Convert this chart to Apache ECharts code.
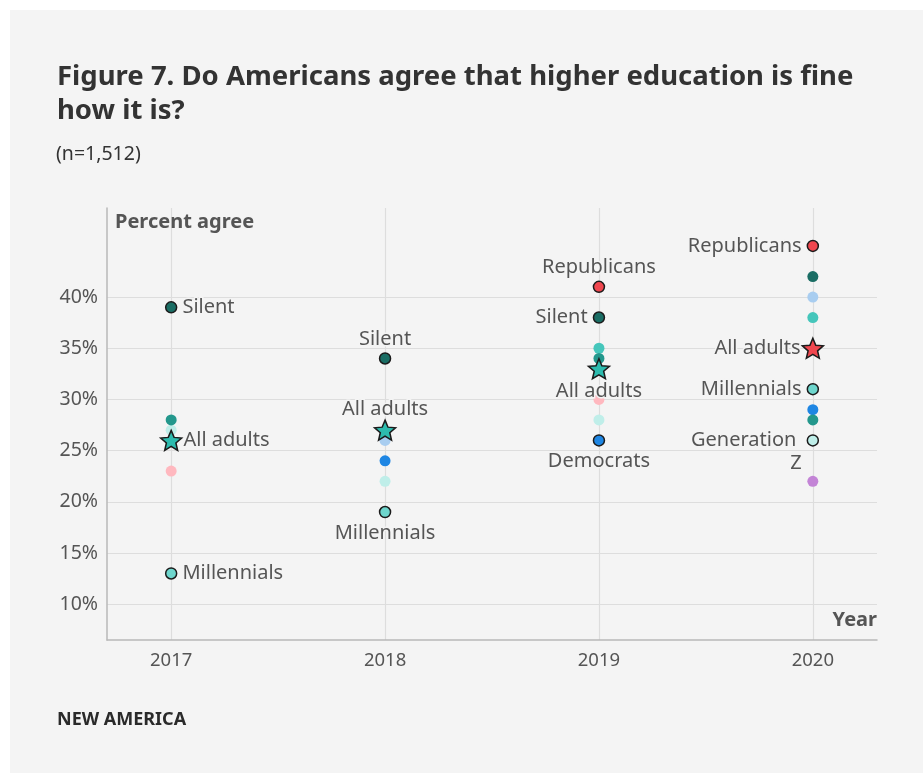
<!DOCTYPE html>
<html>
<head>
<meta charset="utf-8">
<script src="https://cdn.jsdelivr.net/npm/echarts@6/dist/echarts.min.js"></script>
<style>
  html, body { margin: 0; padding: 0; background: #ffffff; }
  #panel { position: absolute; left: 10px; top: 10px; width: 913px; height: 763px; background: #f4f4f4; }
  #chart { position: absolute; left: 0; top: 0; width: 923px; height: 773px; }
</style>
</head>
<body>
<div id="panel"></div>
<div id="chart"></div>
<script>
// Survey years and share of each group agreeing (percent)
const years = [2017, 2018, 2019, 2020];
const silent = [39, 34, 38, 42];
const boomers = [28, null, 34, 28];
const genX = [null, null, 35, 38];
const millennials = [13, 19, null, 31];
const genZ = [27, 22, 28, 26];
const republicans = [null, null, 41, 45];
const independents = [23, null, 30, null];
const democrats = [null, 24, 26, 29];
const leanDemocrat = [null, 26, null, 40];
const otherParty = [null, null, null, 22];
const allAdults = [26, 27, 33, 35];
const yTicks = [10, 15, 20, 25, 30, 35, 40];

const FONT = '"Noto Sans", sans-serif';
const TEXT = '#555555';
const BG = '#f4f4f4';
const STAR = 'path://M12,1.5 L14.9,8.4 L22.4,9 L16.7,13.9 L18.4,21.2 L12,17.3 L5.6,21.2 L7.3,13.9 L1.6,9 L9.1,8.4 Z';

// label placement per year (null = unlabelled)
const groups = [
  { name: 'Other', text: '', values: otherParty, color: '#c384d6', labels: [] },
  { name: 'Independents', text: '', values: independents, color: '#ffb8bf', labels: [] },
  { name: 'Lean Democrat', text: '', values: leanDemocrat, color: '#a8cdf0', labels: [] },
  { name: 'Democrats', text: 'Democrats', values: democrats, color: '#1e86e3', labels: [null, null, 'bottom', null] },
  { name: 'Generation Z', text: 'Generation \nZ', values: genZ, color: '#bfeee9', labels: [null, null, null, 'left'] },
  { name: 'Generation X', text: '', values: genX, color: '#45c6bb', labels: [] },
  { name: 'Boomers', text: '', values: boomers, color: '#23978c', labels: [] },
  { name: 'Millennials', text: 'Millennials', values: millennials, color: '#6ed6cd', labels: ['right', 'bottom', null, 'left'] },
  { name: 'Silent', text: 'Silent', values: silent, color: '#1a6d64', labels: ['right', 'top', 'left', null] },
  { name: 'Republicans', text: 'Republicans', values: republicans, color: '#f0474f', labels: [null, null, 'top', 'left'] }
];

const labelBase = {
  show: true,
  color: TEXT,
  fontFamily: FONT,
  fontSize: 20,
  lineHeight: 20,
  textBorderColor: BG,
  textBorderWidth: 3,
  distance: 5
};

function buildData(values, labels, text, colorFn) {
  const out = [];
  values.forEach((v, i) => {
    if (v === null) return;
    const pos = labels[i] || null;
    const item = { value: [years[i], v] };
    if (colorFn) item.itemStyle = { color: colorFn(i) };
    if (pos) {
      item.itemStyle = Object.assign({}, item.itemStyle, { borderColor: '#1b1b1b', borderWidth: 1.5 });
      const lab = Object.assign({}, labelBase, { position: pos, formatter: text });
      if (pos === 'top') lab.distance = 3;
      if (text.indexOf('\n') >= 0) { lab.align = 'right'; lab.lineHeight = 23; lab.offset = [0, 11.5]; }
      item.label = lab;
    }
    out.push(item);
  });
  return out;
}

const series = [];

// grid lines drawn from axis values, kept beneath the marks
series.push({
  type: 'scatter',
  data: [],
  silent: true,
  z: 0,
  markLine: {
    silent: true,
    z: 0,
    symbol: 'none',
    animation: false,
    label: { show: false },
    lineStyle: { color: '#dddddd', width: 1.2, type: 'solid' },
    data: yTicks.map(v => ({ yAxis: v })).concat(years.map(y => ({ xAxis: y })))
  }
});

groups.forEach(g => {
  series.push({
    name: g.name,
    type: 'scatter',
    symbolSize: 11,
    z: 3,
    itemStyle: { color: g.color, opacity: 1 },
    label: { show: false },
    data: buildData(g.values, g.labels, g.text)
  });
});

series.push({
  name: 'All adults',
  type: 'scatter',
  symbol: STAR,
  symbolSize: [21, 20],
  z: 5,
  itemStyle: { color: '#2dbbae', borderColor: '#1b1b1b', borderWidth: 1.5, opacity: 1 },
  data: buildData(allAdults, ['right', 'top', 'bottom', 'left'], 'All adults',
    i => (i === 3 ? '#f0474f' : '#2dbbae'))
});
// star labels sit a little closer to the mark
series[series.length - 1].data.forEach(d => { d.label.distance = 2; });
series[series.length - 1].data[0].label.distance = 1;
series[series.length - 1].data[1].label.distance = 0;
series[series.length - 1].data[3].label.distance = 1;

const chart = echarts.init(document.getElementById('chart'), null, { renderer: 'canvas' });
chart.setOption({
  backgroundColor: 'transparent',
  animation: false,
  title: [
    {
      text: 'Figure 7. Do Americans agree that higher education is fine\nhow it is?',
      left: 52, top: 55,
      textStyle: { fontFamily: FONT, fontWeight: 'bold', fontSize: 27.5, lineHeight: 34, color: '#333333' }
    },
    {
      text: '(n=1,512)',
      left: 51, top: 139,
      textStyle: { fontFamily: FONT, fontWeight: 'normal', fontSize: 19.5, color: '#333333' }
    },
    {
      text: 'NEW AMERICA',
      left: 52, top: 706,
      textStyle: { fontFamily: FONT, fontWeight: 'bold', fontSize: 18, color: '#2a2a2a' }
    }
  ],
  grid: { left: 107, right: 46, top: 208, bottom: 133, containLabel: false },
  xAxis: {
    type: 'value',
    min: 2016.7,
    max: 2020.3,
    name: 'Year',
    nameLocation: 'end',
    nameGap: 0,
    nameTextStyle: { fontFamily: FONT, fontWeight: 'bold', fontSize: 20, color: TEXT, align: 'right', verticalAlign: 'bottom', padding: [0, 0, 10, 0] },
    axisLine: { onZero: false, lineStyle: { color: '#b8b8b8', width: 1.5 } },
    axisTick: { show: false },
    splitLine: { show: false },
    axisLabel: { customValues: years, color: TEXT, fontFamily: FONT, fontSize: 18.5, margin: 11, formatter: v => String(v) }
  },
  yAxis: {
    type: 'value',
    min: 6.5,
    max: 48.7,
    name: 'Percent agree',
    nameLocation: 'end',
    nameGap: -24,
    nameTextStyle: { fontFamily: FONT, fontWeight: 'bold', fontSize: 20, color: TEXT, align: 'left', padding: [0, 0, 0, 8] },
    axisLine: { show: true, lineStyle: { color: '#b8b8b8', width: 1.5 } },
    axisTick: { show: false },
    splitLine: { show: false },
    axisLabel: { customValues: yTicks, color: TEXT, fontFamily: FONT, fontSize: 19.5, margin: 9, formatter: v => v + '%' }
  },
  series: series
});
</script>
</body>
</html>
